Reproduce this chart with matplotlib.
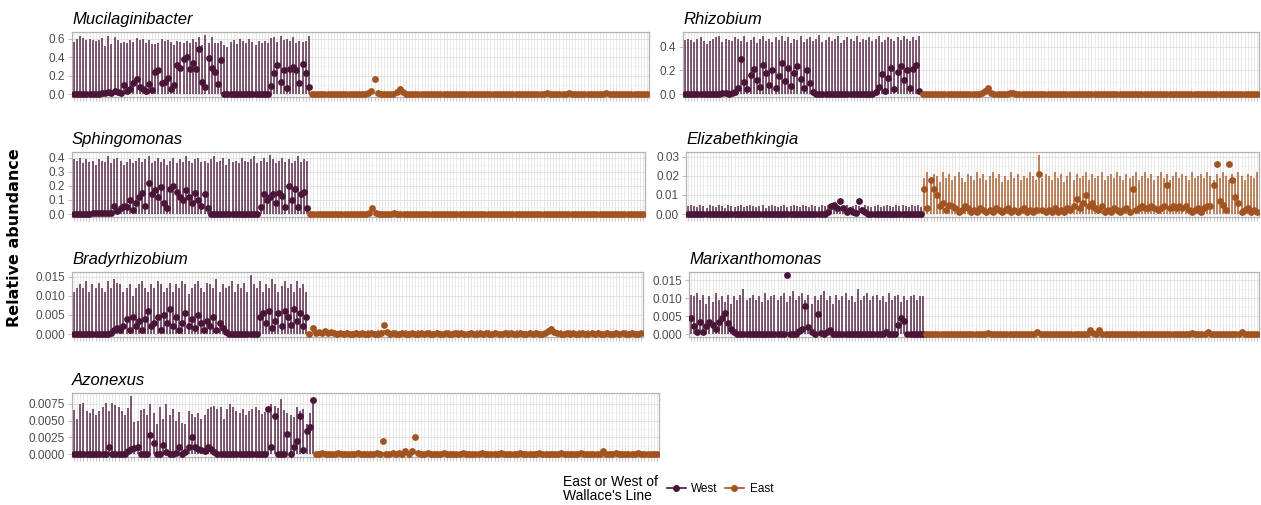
import matplotlib
matplotlib.use("Agg")
import matplotlib.pyplot as plt
from matplotlib.lines import Line2D

plt.rcParams['font.family'] = ['Liberation Sans', 'DejaVu Sans']

WEST_COL = "#4a1538"
EAST_COL = "#a3531f"

# ---- Mucilaginibacter ----
muc_west_bar = [.56, .60, .63, .61, .59, .60, .58, .57, .59, .61,
                .52, .63, .54, .62, .58, .55, .56, .55, .59, .56,
                .61, .58, .60, .55, .59, .54, .54, .55, .60, .57,
                .59, .56, .53, .57, .56, .55, .57, .55, .60, .56,
                .62, .53, .64, .55, .62, .55, .55, .57, .53, .51,
                .56, .58, .54, .60, .57, .55, .60, .56, .53, .57,
                .55, .57, .55, .61, .62, .56, .63, .58, .60, .57,
                .62, .55, .57, .56, .57, .63]
muc_west_pt = [0, 0, 0, 0, 0, 0, 0, 0, .005, .01,
               .01, .02, .01, .03, .02, .01, .10, .03, .06, .12,
               .16, .08, .06, .03, .11, .04, .24, .26, .12, .13,
               .17, .05, .10, .32, .28, .38, .40, .27, .34, .27,
               .49, .13, .08, .39, .28, .24, .11, .37, 0, 0,
               0, 0, 0, 0, 0, 0, 0, 0, 0, 0,
               0, 0, 0, .09, .23, .31, .13, .26, .07, .27,
               .29, .26, .12, .33, .23, .08]
muc_east_bar = [.012, .008, .010, .014, .009, .011, .007, .013, .010, .012,
                .009, .014, .011, .008, .012, .010, .013, .009, .011, .015,
                .010, .012, .008, .011, .014, .009, .012, .010, .013, .008,
                .011, .009, .014, .010, .012, .008, .013, .011, .009, .012,
                .010, .014, .008, .011, .013, .009, .012, .010, .011, .014,
                .009, .012, .010, .013, .008, .011, .014, .009, .012, .010,
                .013, .008, .011, .012, .010, .014, .009, .011, .013, .010,
                .012, .009, .014, .010, .011, .008, .013, .012, .010, .011,
                .014, .009, .012, .010, .013, .011, .008, .012, .010, .014,
                .011, .009, .013, .010, .012, .008, .011, .014, .010, .012,
                .009, .013, .011, .010, .012, .014, .010, .012]
muc_east_pt = [.002, .001, .003, .002, .001, .002, .003, .001, .002, .001,
               .002, .003, .001, .002, .001, .002, .001, .003, .010, .030,
               .160, .012, .004, .002, .001, .003, .002, .020, .050, .020,
               .005, .002, .001, .003, .002, .001, .002, .001, .003, .002,
               .001, .002, .003, .001, .002, .001, .002, .003, .001, .002,
               .003, .001, .002, .001, .003, .002, .001, .002, .003, .001,
               .002, .001, .003, .002, .001, .002, .003, .001, .002, .001,
               .002, .003, .001, .002, .001, .008, .002, .001, .003, .002,
               .001, .002, .008, .003, .001, .002, .001, .003, .002, .001,
               .002, .003, .001, .002, .006, .002, .001, .003, .002, .001,
               .002, .001, .003, .002, .001, .002, .003, .004]

# ---- Rhizobium ----
rhi_west_bar = [.46, .47, .46, .44, .47, .48, .45, .42, .45, .47,
                .48, .49, .44, .47, .46, .45, .48, .47, .45, .49,
                .44, .46, .48, .43, .47, .49, .45, .47, .44, .48,
                .46, .49, .45, .48, .43, .47, .46, .49, .44, .47,
                .48, .45, .47, .50, .44, .46, .48, .45, .47, .49,
                .43, .46, .48, .47, .45, .49, .44, .47, .46, .48,
                .45, .47, .49, .44, .46, .48, .47, .45, .48, .46,
                .49, .47, .45, .48, .46, .49]
rhi_west_pt = [0, 0, 0, 0, 0, 0, 0, 0, 0, 0,
               0, 0, .005, .01, 0, .01, .02, .05, .30, .10,
               .04, .16, .21, .12, .06, .25, .18, .08, .20, .05,
               .15, .26, .11, .22, .07, .18, .24, .13, .05, .20,
               .09, .02, 0, 0, 0, 0, 0, 0, 0, 0,
               0, 0, 0, 0, 0, 0, 0, 0, 0, 0,
               0, .02, .06, .17, .03, .14, .22, .04, .19, .24,
               .12, .20, .05, .21, .25, .03]
rhi_east_bar = [.010, .007, .011, .009, .012, .008, .010, .011, .007, .009,
                .012, .010, .008, .011, .009, .012, .007, .010, .011, .009,
                .008, .012, .010, .009, .011, .007, .010, .012, .009, .011,
                .010, .008, .012, .009, .011, .010, .007, .011, .009, .012,
                .010, .008, .011, .012, .009, .010, .007, .011, .010, .009,
                .012, .008, .010, .011, .009, .012, .010, .008, .011, .009,
                .010, .012, .007, .011, .009, .010, .012, .008, .010, .011,
                .009, .012, .010, .008, .011, .010, .009, .012, .007, .010,
                .011, .009, .012, .010, .008, .011, .010, .009, .012, .010,
                .008, .011, .009, .012, .010, .007, .011, .010, .009, .012,
                .010, .008, .011, .009, .012, .010, .011, .009]
rhi_east_pt = [.001, .002, .001, .003, .001, .002, .001, .002, .003, .001,
               .002, .001, .002, .001, .003, .002, .001, .002, .001, .008,
               .030, .050, .010, .002, .001, .003, .002, .001, .010, .012,
               .002, .001, .002, .003, .001, .002, .001, .002, .001, .003,
               .002, .001, .002, .001, .002, .003, .001, .002, .001, .002,
               .001, .003, .002, .001, .002, .001, .002, .003, .001, .002,
               .001, .002, .001, .003, .002, .001, .002, .001, .002, .001,
               .003, .002, .001, .002, .001, .002, .003, .001, .002, .001,
               .002, .001, .003, .002, .001, .002, .001, .002, .003, .001,
               .002, .001, .002, .001, .003, .002, .001, .002, .001, .002,
               .001, .003, .002, .001, .002, .001, .002, .001]

# ---- Sphingomonas ----
sph_west_bar = [.39, .38, .40, .36, .39, .37, .38, .35, .39, .38,
                .37, .41, .36, .39, .40, .38, .35, .37, .39, .36,
                .38, .40, .37, .39, .41, .36, .38, .40, .37, .39,
                .35, .38, .40, .36, .39, .37, .41, .38, .36, .39,
                .40, .37, .38, .36, .39, .41, .37, .38, .40, .35,
                .39, .37, .38, .36, .40, .38, .37, .39, .41, .36,
                .38, .40, .37, .42, .39, .36, .38, .40, .37, .39,
                .36, .38, .41, .37, .39, .38]
sph_west_pt = [0, 0, 0, 0, 0, 0, .005, .005, .01, .01,
               .005, .01, .005, .06, .02, .04, .06, .05, .10, .03,
               .08, .12, .15, .06, .22, .14, .17, .12, .19, .08,
               .04, .18, .20, .16, .12, .10, .17, .12, .08, .15,
               .10, .06, .14, .04, 0, 0, 0, 0, 0, 0,
               0, 0, 0, 0, 0, 0, 0, 0, 0, 0,
               .05, .14, .10, .12, .14, .08, .15, .13, .05, .20,
               .10, .18, .05, .14, .16, .04]
sph_east_bar = [.006, .004, .007, .005, .008, .006, .004, .007, .005, .006,
                .008, .005, .006, .004, .007, .006, .005, .008, .006, .004,
                .007, .005, .006, .008, .004, .006, .007, .005, .006, .004,
                .008, .006, .005, .007, .004, .006, .005, .008, .006, .007,
                .004, .006, .005, .007, .008, .005, .006, .004, .007, .006,
                .005, .008, .006, .004, .007, .005, .006, .008, .005, .006,
                .004, .007, .006, .005, .008, .006, .004, .007, .005, .006,
                .007, .005, .008, .006, .004, .006, .007, .005, .006, .008,
                .004, .006, .005, .007, .006, .005, .008, .004, .006, .007,
                .005, .006, .008, .004, .007, .005, .006, .007, .004, .006,
                .005, .008, .006, .004, .007, .005, .006, .007]
sph_east_pt = [.001, .002, .001, .001, .002, .001, .002, .001, .001, .002,
               .001, .002, .001, .001, .002, .001, .001, .002, .003, .010,
               .040, .008, .002, .001, .001, .002, .001, .006, .002, .001,
               .001, .002, .001, .001, .002, .001, .002, .001, .001, .002,
               .001, .001, .002, .001, .002, .001, .001, .002, .001, .001,
               .002, .001, .001, .002, .001, .002, .001, .001, .002, .001,
               .001, .002, .001, .002, .001, .001, .002, .001, .001, .002,
               .001, .001, .002, .001, .002, .001, .001, .002, .001, .001,
               .002, .001, .001, .002, .001, .002, .001, .001, .002, .001,
               .001, .002, .001, .001, .002, .001, .002, .001, .001, .002,
               .001, .001, .002, .001, .002, .001, .001, .002]

# ---- Elizabethkingia ----
eli_west_bar = [.004, .0045, .004, .0035, .0045, .004, .003, .0045, .004, .0035,
                .0045, .004, .003, .0045, .004, .0035, .004, .0045, .0035, .004,
                .0045, .004, .0035, .004, .0045, .003, .004, .0045, .004, .0035,
                .004, .0045, .0035, .004, .0045, .004, .0035, .0045, .004, .0035,
                .0045, .004, .0035, .0045, .004, .0045, .005, .0045, .005, .0035,
                .004, .0045, .0035, .004, .0045, .004, .0035, .0045, .004, .0035,
                .004, .0045, .0035, .004, .0045, .004, .0035, .0045, .004, .0045,
                .004, .0035, .0045, .004, .0045, .0035]
eli_west_pt = [0, 0, .0002, 0, 0, 0, .0002, 0, 0, 0,
               0, 0, 0, .0002, 0, 0, 0, 0, .0002, 0,
               0, 0, 0, 0, .0002, 0, 0, 0, 0, 0,
               0, .0002, 0, 0, 0, 0, 0, 0, .0002, 0,
               0, 0, 0, 0, 0, .001, .004, .005, .003, .007,
               .003, .001, .002, .001, .0005, .007, .002, .001, 0, 0,
               0, 0, 0, .0002, 0, 0, 0, 0, 0, 0,
               0, .0002, 0, 0, 0, 0]
eli_east_bar = [.019, .022, .018, .021, .020, .017, .022, .019, .021, .018,
                .020, .022, .019, .017, .021, .020, .018, .022, .019, .021,
                .018, .020, .022, .019, .021, .017, .020, .018, .022, .019,
                .021, .018, .020, .019, .022, .020, .018, .031, .019, .021,
                .020, .018, .022, .019, .021, .017, .020, .022, .018, .021,
                .019, .020, .022, .018, .021, .019, .020, .022, .018, .020,
                .021, .019, .022, .020, .018, .021, .019, .020, .022, .018,
                .020, .022, .019, .021, .018, .020, .022, .019, .021, .018,
                .020, .022, .019, .021, .020, .018, .022, .019, .020, .021,
                .019, .022, .020, .018, .021, .019, .022, .020, .018, .021,
                .019, .022, .020, .018, .021, .020, .019, .022]
eli_east_pt = [.013, .003, .018, .013, .010, .004, .006, .002, .005, .004,
               .003, .001, .002, .004, .003, .001, .002, .001, .003, .002,
               .001, .002, .001, .003, .002, .001, .002, .003, .001, .002,
               .001, .002, .003, .001, .002, .001, .002, .021, .002, .001,
               .002, .001, .003, .001, .002, .001, .003, .002, .004, .008,
               .003, .006, .010, .004, .006, .003, .002, .004, .001, .002,
               .001, .003, .002, .001, .002, .003, .001, .013, .002, .003,
               .004, .003, .003, .004, .003, .002, .003, .004, .015, .003,
               .004, .003, .004, .003, .004, .002, .001, .002, .003, .001,
               .003, .004, .004, .015, .026, .007, .005, .002, .026, .018,
               .009, .006, .001, .002, .003, .001, .002, .001]

# ---- Bradyrhizobium ----
bra_west_bar = [.011, .012, .013, .012, .014, .011, .013, .012, .0135, .012,
                .011, .014, .012, .0145, .0135, .013, .011, .012, .013, .010,
                .012, .013, .014, .012, .011, .013, .012, .014, .013, .011,
                .012, .0135, .011, .013, .012, .014, .013, .0105, .012, .013,
                .014, .012, .011, .0135, .013, .012, .0145, .011, .013, .012,
                .0125, .014, .011, .013, .012, .0135, .011, .0155, .013, .012,
                .014, .011, .013, .012, .0145, .013, .011, .0125, .014, .012,
                .013, .011, .014, .012, .013, .011]
bra_west_pt = [0, 0, 0, 0, 0, 0, 0, 0, 0, 0,
               0, 0, .0003, .001, .0015, .001, .002, .004, .001, .0045,
               .002, .0035, .001, .004, .006, .002, .003, .0045, .001, .005,
               .003, .0065, .002, .0045, .001, .003, .0055, .002, .004, .0015,
               .005, .003, .001, .0035, .002, .0045, .001, .003, .0015, .0005,
               0, 0, 0, 0, 0, 0, 0, 0, 0, 0,
               .0045, .0055, .003, .006, .0015, .0035, .0055, .002, .006, .0045,
               .0025, .0065, .0035, .0055, .002, .0045]
bra_east_bar = [.0008, .0010, .0006, .0009, .0007, .0011, .0008, .0006, .0010, .0009,
                .0007, .0008, .0011, .0006, .0009, .0010, .0007, .0008, .0006, .0010,
                .0009, .0007, .0011, .0008, .0010, .0006, .0009, .0007, .0010, .0008,
                .0006, .0011, .0009, .0007, .0008, .0010, .0006, .0009, .0008, .0011,
                .0007, .0010, .0008, .0006, .0009, .0011, .0007, .0008, .0010, .0006,
                .0009, .0008, .0011, .0007, .0010, .0006, .0008, .0009, .0011, .0007,
                .0010, .0008, .0006, .0009, .0011, .0007, .0008, .0010, .0006, .0009,
                .0008, .0011, .0007, .0010, .0008, .0006, .0009, .0012, .0010, .0007,
                .0008, .0011, .0006, .0009, .0010, .0007, .0008, .0011, .0006, .0009,
                .0010, .0007, .0008, .0011, .0009, .0006, .0010, .0008, .0007, .0011,
                .0009, .0006, .0010, .0008, .0011, .0007, .0009, .0008]
bra_east_pt = [.0001, .0015, .0002, .0005, .0003, .0008, .0004, .0006, .0003, .0001,
               .0002, .0001, .0002, .0001, .0001, .0002, .0001, .0002, .0001, .0001,
               .0002, .0001, .0001, .0002, .0025, .0005, .0001, .0002, .0001, .0001,
               .0002, .0001, .0001, .0002, .0001, .0001, .0002, .0001, .0002, .0001,
               .0001, .0002, .0001, .0001, .0002, .0001, .0001, .0002, .0001, .0002,
               .0001, .0001, .0002, .0001, .0001, .0002, .0001, .0002, .0001, .0001,
               .0002, .0001, .0001, .0002, .0001, .0002, .0001, .0001, .0002, .0001,
               .0001, .0002, .0001, .0002, .0001, .0001, .0003, .0008, .0012, .0006,
               .0002, .0001, .0001, .0002, .0001, .0002, .0001, .0001, .0002, .0001,
               .0001, .0002, .0001, .0002, .0001, .0001, .0002, .0001, .0001, .0002,
               .0001, .0002, .0001, .0001, .0002, .0001, .0001, .0002]

# ---- Marixanthomonas ----
mar_west_bar = [.011, .0105, .0115, .0095, .011, .0085, .0105, .009, .0115, .0095,
                .0105, .009, .011, .0085, .0105, .0095, .011, .0125, .0095, .010,
                .011, .0095, .0105, .009, .0115, .0095, .0105, .011, .0095, .0105,
                .0115, .009, .0105, .012, .0095, .0105, .0115, .0095, .011, .0085,
                .0105, .0095, .011, .012, .0095, .0105, .0085, .011, .0095, .0105,
                .0115, .0095, .0105, .009, .0125, .0095, .0105, .0115, .0095, .0105,
                .011, .0095, .0105, .009, .0115, .0095, .0105, .011, .009, .0105,
                .0095, .0105, .011, .0095, .0105, .0105]
mar_west_pt = [.0046, .0023, .0007, .0035, .0007, .0023, .0035, .0025, .0015, .0035,
               .0045, .006, .003, .0015, .0005, 0, 0, 0, 0, 0,
               0, 0, 0, 0, 0, 0, 0, 0, 0, 0,
               0, .0165, 0, 0, 0, .0008, .0014, .0078, .002, .0007,
               0, .0055, .0003, 0, .0007, .0012, 0, 0, 0, 0,
               0, 0, 0, 0, 0, 0, 0, 0, 0, 0,
               0, 0, 0, .0007, 0, 0, 0, .0026, .0046, .0036,
               0, 0, 0, 0, 0, 0]
mar_east_bar = [.0004, .0003, .0005, .0002, .0004, .0006, .0003, .0004, .0002, .0005,
                .0003, .0004, .0006, .0002, .0004, .0003, .0005, .0004, .0002, .0003,
                .0005, .0004, .0003, .0006, .0002, .0004, .0005, .0003, .0004, .0002,
                .0005, .0003, .0004, .0006, .0003, .0004, .0007, .0003, .0005, .0002,
                .0004, .0003, .0005, .0004, .0002, .0006, .0003, .0004, .0005, .0003,
                .0002, .0004, .0005, .0011, .0006, .0003, .0012, .0004, .0003, .0005,
                .0002, .0004, .0003, .0006, .0004, .0002, .0005, .0003, .0004, .0005,
                .0003, .0002, .0004, .0006, .0003, .0004, .0005, .0002, .0003, .0004,
                .0006, .0003, .0005, .0004, .0002, .0003, .0005, .0004, .0003, .0006,
                .0002, .0006, .0004, .0003, .0005, .0002, .0004, .0003, .0005, .0004,
                .0003, .0002, .0006, .0004, .0003, .0005, .0004, .0003]
mar_east_pt = [0, 0, .0001, 0, 0, 0, .0001, 0, 0, 0,
               .0001, 0, 0, 0, 0, .0001, 0, 0, 0, 0,
               .0003, 0, 0, .0001, 0, 0, 0, 0, .0001, 0,
               0, 0, 0, 0, .0001, 0, .0006, 0, 0, 0,
               0, .0001, 0, 0, 0, 0, .0001, 0, 0, 0,
               0, 0, 0, .001, .0004, 0, .0011, 0, 0, 0,
               .0001, 0, 0, 0, 0, .0001, 0, 0, 0, 0,
               0, 0, .0001, 0, 0, 0, 0, 0, .0001, 0,
               0, 0, 0, 0, 0, 0, .0004, 0, 0, 0,
               .0001, .0005, 0, 0, 0, 0, .0001, 0, 0, 0,
               0, 0, .0005, 0, 0, 0, .0001, 0]

# ---- Azonexus ----
azo_west_bar = [.0066, .0053, .0075, .0076, .0065, .0062, .0068, .0058, .0065, .0071,
                .0077, .0064, .0076, .0074, .0070, .0064, .0058, .0069, .0087, .0048,
                .0049, .0066, .0067, .0058, .0075, .0062, .0045, .0071, .0053, .0075,
                .0058, .0068, .0050, .0063, .0046, .0045, .0065, .0060, .0055, .0062,
                .0053, .0058, .0068, .0070, .0072, .0067, .0070, .0052, .0067, .0075,
                .0071, .0065, .0062, .0067, .0058, .0064, .0068, .0070, .0066, .0060,
                .0063, .0062, .0075, .0072, .0069, .0083, .0066, .0061, .0058, .0056,
                .0070, .0065, .0068, .0045, .0061, .0082]
azo_west_pt = [0, 0, 0, 0, 0, 0, 0, 0, 0, 0,
               0, .0011, 0, 0, 0, 0, 0, .0004, .0008, .0009,
               .0011, 0, 0, 0, .0029, .0017, 0, 0, .0014, .0003,
               0, 0, .0002, .001, 0, .0003, .0011, .0025, .0011, .0008,
               .0006, .0005, .0011, .0008, .0003, 0, 0, 0, 0, 0,
               0, 0, 0, 0, 0, 0, 0, 0, 0, 0,
               0, .0068, .0011, .0057, 0, 0, 0, .003, 0, .001,
               .002, .0057, .0006, .0035, .0041, .0081]
azo_east_bar = [.0003, .0004, .0002, .0003, .0005, .0003, .0002, .0004, .0003, .0005,
                .0002, .0003, .0004, .0003, .0002, .0005, .0003, .0004, .0002, .0003,
                .0004, .0003, .0005, .0002, .0003, .0004, .0003, .0002, .0005, .0003,
                .0004, .0003, .0002, .0004, .0003, .0005, .0002, .0003, .0004, .0003,
                .0002, .0005, .0003, .0004, .0002, .0003, .0004, .0003, .0005, .0002,
                .0003, .0004, .0003, .0002, .0005, .0003, .0004, .0002, .0003, .0004,
                .0003, .0005, .0002, .0003, .0004, .0003, .0002, .0005, .0003, .0004,
                .0002, .0003, .0004, .0003, .0005, .0002, .0003, .0004, .0003, .0002,
                .0005, .0003, .0004, .0002, .0003, .0004, .0003, .0005, .0002, .0003,
                .0006, .0003, .0002, .0004, .0003, .0005, .0002, .0003, .0004, .0003,
                .0002, .0005, .0003, .0004, .0002, .0003, .0004, .0003]
azo_east_pt = [0, 0, .0001, 0, 0, 0, 0, .0001, 0, 0,
               0, 0, 0, .0001, 0, 0, 0, 0, 0, .0001,
               0, .0020, 0, 0, .0001, 0, .0002, 0, .0004, 0,
               .0005, .0025, .0002, 0, 0, .0001, 0, 0, 0, 0,
               .0001, 0, 0, 0, 0, 0, .0001, 0, 0, 0,
               0, 0, .0001, 0, 0, 0, 0, 0, .0001, 0,
               0, 0, 0, 0, .0001, 0, 0, 0, 0, 0,
               .0001, 0, 0, 0, 0, 0, 0, .0001, 0, 0,
               0, 0, 0, .0001, 0, 0, 0, 0, 0, 0,
               .0004, 0, 0, 0, .0001, 0, 0, 0, 0, 0,
               0, .0001, 0, 0, 0, 0, 0, 0]

# name, data, yticks, tick format, panel box in pixels (left, top, right, bottom)
panels = [
    ("Mucilaginibacter", muc_west_bar, muc_west_pt, muc_east_bar, muc_east_pt,
     [0, .2, .4, .6], "{:.1f}", (72, 32, 649, 97)),
    ("Rhizobium", rhi_west_bar, rhi_west_pt, rhi_east_bar, rhi_east_pt,
     [0, .2, .4], "{:.1f}", (683, 32, 1259, 97)),
    ("Sphingomonas", sph_west_bar, sph_west_pt, sph_east_bar, sph_east_pt,
     [0, .1, .2, .3, .4], "{:.1f}", (72, 152, 645, 217)),
    ("Elizabethkingia", eli_west_bar, eli_west_pt, eli_east_bar, eli_east_pt,
     [0, .01, .02, .03], "{:.2f}", (686, 152, 1259, 217)),
    ("Bradyrhizobium", bra_west_bar, bra_west_pt, bra_east_bar, bra_east_pt,
     [0, .005, .01, .015], "{:.3f}", (72, 272, 643, 337)),
    ("Marixanthomonas", mar_west_bar, mar_west_pt, mar_east_bar, mar_east_pt,
     [0, .005, .01, .015], "{:.3f}", (689, 272, 1259, 337)),
    ("Azonexus", azo_west_bar, azo_west_pt, azo_east_bar, azo_east_pt,
     [0, .0025, .005, .0075], "{:.4f}", (72, 393, 659, 457)),
]

W, H = 1261, 505
fig = plt.figure(figsize=(W / 100, H / 100), dpi=100)

for name, wb, wp, eb, ep, yt, fmt, (l, t, r, b) in panels:
    ax = fig.add_axes([l / W, 1 - b / H, (r - l) / W, (b - t) / H])
    nw, ne = len(wb), len(eb)
    xw = list(range(nw))
    xe = list(range(nw, nw + ne))
    n = nw + ne

    ax.vlines(xw, 0, wb, color=WEST_COL, lw=1.1, alpha=0.9, zorder=2)
    ax.vlines(xe, 0, eb, color=EAST_COL, lw=1.1, alpha=0.9, zorder=2)
    ax.scatter(xw, wp, s=24, color=WEST_COL, zorder=3, linewidths=0)
    ax.scatter(xe, ep, s=24, color=EAST_COL, zorder=3, linewidths=0)

    top = max(max(wb), max(eb), max(wp), max(ep))
    ax.set_ylim(-0.05 * top, 1.05 * top)
    ax.set_xlim(-0.6, n - 0.4)

    ax.set_xticks(range(n))
    ax.set_xticklabels([])
    ax.set_yticks(yt)
    ax.set_yticklabels([fmt.format(v) for v in yt])
    minor = [(yt[i] + yt[i + 1]) / 2 for i in range(len(yt) - 1)]
    ax.set_yticks(minor, minor=True)

    ax.set_axisbelow(True)
    ax.grid(axis='x', which='major', color='#dedede', lw=0.5)
    ax.grid(axis='y', which='major', color='#dedede', lw=0.6)
    ax.grid(axis='y', which='minor', color='#ececec', lw=0.4)
    ax.tick_params(axis='x', length=3, width=0.5, color='#b3b3b3')
    ax.tick_params(axis='y', which='major', length=3, width=0.6, color='#b3b3b3',
                   labelsize=8.5, labelcolor='#4d4d4d', pad=2)
    ax.tick_params(axis='y', which='minor', length=0)
    for sp in ax.spines.values():
        sp.set_color('#b3b3b3')
        sp.set_linewidth(0.9)

    ax.set_title(name, loc='left', fontsize=12, fontstyle='italic', pad=6)

fig.text(15 / W, 1 - 238 / H, "Relative abundance", rotation=90, ha='center',
         va='center', fontsize=11.5, fontweight='bold', family='DejaVu Sans')

fig.text(563 / W, 1 - 489 / H, "East or West of\nWallace's Line", ha='left',
         va='center', fontsize=10, linespacing=1.0)
handles = [Line2D([0], [0], color=WEST_COL, lw=1.2, marker='o', markersize=4),
           Line2D([0], [0], color=EAST_COL, lw=1.2, marker='o', markersize=4)]
fig.legend(handles, ["West", "East"], ncol=2, loc='center left',
           bbox_to_anchor=(656 / W, 1 - 489 / H), frameon=False, fontsize=8.5,
           handlelength=1.6, handletextpad=0.5, columnspacing=0.6)

fig.savefig("out.png", dpi=100)
